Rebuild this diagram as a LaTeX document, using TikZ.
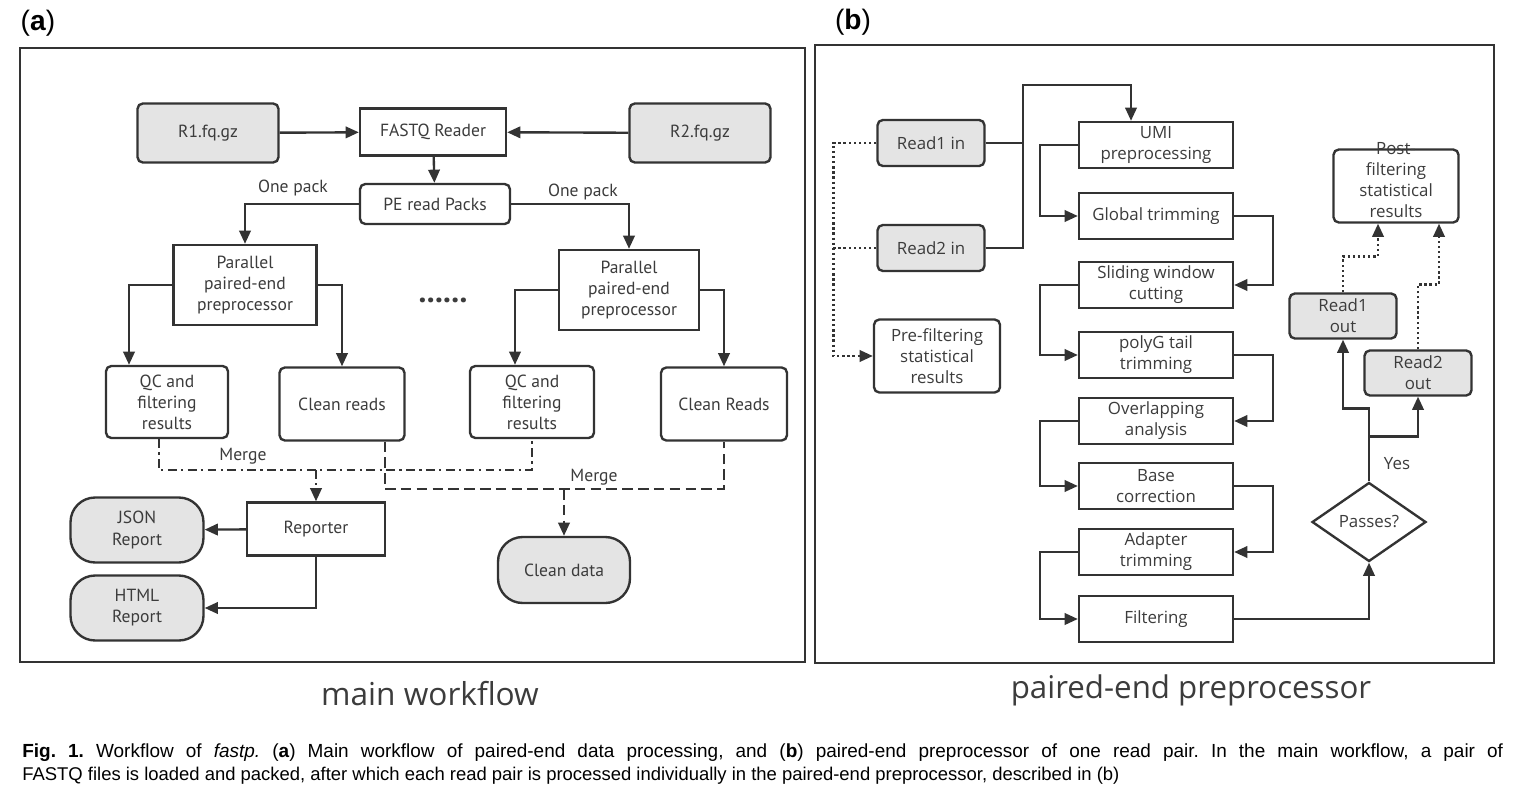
\documentclass[tikz,border=0pt]{standalone}
\usepackage{fontspec}
\setmainfont{Liberation Sans}
\newfontfamily\ptfont{PT Sans}
\newfontfamily\opfont{Open Sans}
\usetikzlibrary{arrows.meta, shapes.geometric}

\definecolor{linec}{HTML}{333333}
\definecolor{boxgray}{HTML}{E4E4E4}
\definecolor{txtc}{HTML}{3C3C3C}

\tikzset{
  wfbox/.style={draw=linec, line width=1.35pt, align=center, inner sep=1pt,
    text=txtc, font=\ptfont\fontsize{10}{12}\selectfont},
  ppbox/.style={wfbox, font=\opfont\fontsize{9.6}{12}\selectfont},
  greybox/.style={fill=boxgray},
  wflabel/.style={text=txtc, inner sep=0pt, font=\ptfont\fontsize{10}{12}\selectfont},
  pplabel/.style={wflabel, font=\opfont\fontsize{9.6}{12}\selectfont},
  conn/.style={draw=linec, line width=1.35pt},
  dotline/.style={conn, dash pattern=on 1.3pt off 1.6pt},
  dashline/.style={conn, dash pattern=on 6pt off 3pt},
  dashdotline/.style={conn, dash pattern=on 5pt off 2.5pt on 1.3pt off 2.5pt},
  panelframe/.style={draw=linec, line width=1pt},
}

\begin{document}
\frenchspacing
\begin{tikzpicture}[x=0.02cm, y=-0.02cm, >={Triangle[length=7.5pt,width=6.5pt]}]
  \fill[white] (0,0) rectangle (1523,811);
  \useasboundingbox (0,0) rectangle (1523,811);

  % panel frames and labels
  \draw[panelframe] (20,48) rectangle (805,662);
  \draw[panelframe] (815,45) rectangle (1494,663);
  \node[font=\fontsize{16}{18}\selectfont] (labA) at (38,23) {(\textbf{a})};
  \node[font=\fontsize{16}{18}\selectfont] (labB) at (853,22) {(\textbf{b})};

  % (a) main workflow
  \node[wfbox, greybox, rounded corners=3pt, minimum width=2.82cm, minimum height=1.18cm] (r1) at (208,133) {R1.fq.gz};
  \node[wfbox, minimum width=2.92cm, minimum height=0.94cm] (fastq) at (433,132) {FASTQ Reader};
  \node[wfbox, greybox, rounded corners=3pt, minimum width=2.82cm, minimum height=1.18cm] (r2) at (700,133) {R2.fq.gz};
  \node[wfbox, rounded corners=3pt, minimum width=3.0cm, minimum height=0.8cm] (packs) at (435,204) {PE read Packs};
  \node[wfbox, minimum width=2.86cm, minimum height=1.6cm] (ppL) at (245,285) {Parallel\\paired-end\\preprocessor};
  \node[wfbox, minimum width=2.8cm, minimum height=1.6cm] (ppR) at (629,290) {Parallel\\paired-end\\preprocessor};
  \node[wflabel, font=\ptfont\bfseries\fontsize{18}{18}\selectfont] (dots) at (443,300) {......};
  \node[wfbox, rounded corners=3pt, minimum width=2.44cm, minimum height=1.44cm] (qcL) at (167,402) {QC and\\filtering\\results};
  \node[wfbox, rounded corners=3pt, minimum width=2.5cm, minimum height=1.46cm] (crL) at (342,404) {Clean reads};
  \node[wfbox, rounded corners=3pt, minimum width=2.48cm, minimum height=1.44cm] (qcR) at (532,402) {QC and\\filtering\\results};
  \node[wfbox, rounded corners=3pt, minimum width=2.52cm, minimum height=1.46cm] (crR) at (724,404) {Clean Reads};
  \node[wfbox, minimum width=2.76cm, minimum height=1.06cm] (reporter) at (316,529) {Reporter};
  \node[wfbox, greybox, rounded corners=14pt, minimum width=2.66cm, minimum height=1.3cm] (json) at (137,530) {JSON\\Report};
  \node[wfbox, greybox, rounded corners=14pt, minimum width=2.66cm, minimum height=1.3cm] (html) at (137,608) {HTML\\Report};
  \node[wfbox, greybox, rounded corners=14pt, minimum width=2.64cm, minimum height=1.32cm] (cdata) at (564,570) {Clean data};
  \node[wflabel] (packL) at (293,188) {One pack};
  \node[wflabel] (packR) at (583,192) {One pack};
  \node[wflabel] (mergeQC) at (243,456) {Merge};
  \node[wflabel] (mergeCR) at (594,477) {Merge};
  \coordinate (mergeA) at (0,470);
  \coordinate (mergeB) at (0,489);

  \draw[conn,->] (r1) -- (fastq);
  \draw[conn,->] (r2) -- (fastq);
  \draw[conn,->] (fastq) -- (packs);
  \draw[conn,->] (packs.west) -| (ppL.north);
  \draw[conn,->] (packs.east) -| (ppR.north);
  \draw[conn,->] (ppL.west) -| ([xshift=-0.76cm]qcL.north);
  \draw[conn,->] (ppL.east) -| (crL.north);
  \draw[conn,->] (ppR.west) -| ([xshift=-0.34cm]qcR.north);
  \draw[conn,->] (ppR.east) -| (crR.north);
  \draw[dashdotline] ([xshift=-0.16cm]qcL.south) |- (qcR.south |- mergeA) -- (qcR.south);
  \draw[dashdotline,->] (reporter.north |- mergeA) -- (reporter.north);
  \draw[dashline] ([xshift=0.86cm]crL.south) |- (crR.south |- mergeB) -- (crR.south);
  \draw[dashline,->] (cdata.north |- mergeB) -- (cdata.north);
  \draw[conn,->] (reporter) -- (json);
  \draw[conn,->] (reporter.south) |- (html.east);

  % (b) paired-end preprocessor
  \node[ppbox, greybox, rounded corners=3pt, minimum width=2.14cm, minimum height=0.92cm] (read1in) at (931,143) {Read1 in};
  \node[ppbox, greybox, rounded corners=3pt, minimum width=2.14cm, minimum height=0.92cm] (read2in) at (931,248) {Read2 in};
  \node[ppbox, rounded corners=3pt, minimum width=2.52cm, minimum height=1.46cm] (prefilt) at (937,356) {Pre-filtering\\statistical\\results};
  \node[ppbox, minimum width=3.08cm, minimum height=0.92cm] (umi) at (1156,145) {UMI\\preprocessing};
  \node[ppbox, minimum width=3.08cm, minimum height=0.92cm] (glob) at (1156,216) {Global trimming};
  \node[ppbox, minimum width=3.08cm, minimum height=0.92cm] (slide) at (1156,285) {Sliding window\\cutting};
  \node[ppbox, minimum width=3.08cm, minimum height=0.92cm] (polyg) at (1156,355) {polyG tail\\trimming};
  \node[ppbox, minimum width=3.08cm, minimum height=0.92cm] (overlap) at (1156,421) {Overlapping\\analysis};
  \node[ppbox, minimum width=3.08cm, minimum height=0.92cm] (basecor) at (1156,486) {Base\\correction};
  \node[ppbox, minimum width=3.08cm, minimum height=0.92cm] (adapter) at (1156,552) {Adapter\\trimming};
  \node[ppbox, minimum width=3.08cm, minimum height=0.92cm] (filter) at (1156,619) {Filtering};
  \node[ppbox, diamond, aspect=1.45, inner sep=0pt, minimum width=2.28cm, minimum height=1.58cm] (passes) at (1369,522) {Passes?};
  \node[ppbox, greybox, rounded corners=3pt, minimum width=2.14cm, minimum height=0.9cm] (read1out) at (1343,316) {Read1\\out};
  \node[ppbox, greybox, rounded corners=3pt, minimum width=2.14cm, minimum height=0.9cm] (read2out) at (1418,373) {Read2\\out};
  \node[ppbox, rounded corners=3pt, minimum width=2.5cm, minimum height=1.46cm] (postfilt) at (1396,186)
    {\smash{\begin{tabular}{@{}c@{}}Post-\\filtering\\statistical\\results\end{tabular}}};
  \node[pplabel] (yes) at (1397,464) {Yes};
  \coordinate (topin) at (1023,85);

  \draw[dotline,->] (read1in.west) -- ++(-43,0) |- (prefilt.west);
  \draw[dotline] (read2in.west) -- ++(-43,0);
  \draw[conn] (read1in.east) -- ++(38,0);
  \draw[conn,->] (read2in.east) -| (topin) -| ([xshift=-0.5cm]umi.north);
  \draw[conn,->] (umi.west) -- ++(-38,0) |- (glob.west);
  \draw[conn,->] (glob.east) -- ++(39,0) |- (slide.east);
  \draw[conn,->] (slide.west) -- ++(-38,0) |- (polyg.west);
  \draw[conn,->] (polyg.east) -- ++(39,0) |- (overlap.east);
  \draw[conn,->] (overlap.west) -- ++(-38,0) |- (basecor.west);
  \draw[conn,->] (basecor.east) -- ++(39,0) |- (adapter.east);
  \draw[conn,->] (adapter.west) -- ++(-38,0) |- (filter.west);
  \draw[conn,->] (filter.east) -| (passes.south);
  \draw[conn,->] (passes.north) -- ++(0,-73) -| (read1out.south);
  \draw[conn,->] ([yshift=0.9cm]passes.north) -| (read2out.south);
  \draw[dotline,->] (read1out.north) -- ++(0,-36) -| ([xshift=-0.36cm]postfilt.south);
  \draw[dotline,->] (read2out.north) -- ++(0,-65) -| ([xshift=0.86cm]postfilt.south);

  % titles and caption
  \node[anchor=base, text=txtc, font=\opfont\fontsize{18}{20}\selectfont] (titleA) at (430,705) {main workflow};
  \node[anchor=base, text=txtc, font=\opfont\fontsize{17.8}{20}\selectfont] (titleB) at (1191,698) {paired-end preprocessor};
  \node[anchor=base west, inner sep=0pt, font=\fontsize{10.8}{13}\selectfont] (capA) at (22,757)
    {\makebox[29.62cm][s]{\textbf{Fig. 1.} Workflow of \textit{fastp.} (\textbf{a}) Main workflow of paired-end data processing, and (\textbf{b}) paired-end preprocessor of one read pair. In the main workflow, a pair of}};
  \node[anchor=base west, inner sep=0pt, font=\fontsize{10.5}{13}\selectfont] (capB) at (22,780)
    {FASTQ files is loaded and packed, after which each read pair is processed individually in the paired-end preprocessor, described in (b)};
\end{tikzpicture}
\end{document}
